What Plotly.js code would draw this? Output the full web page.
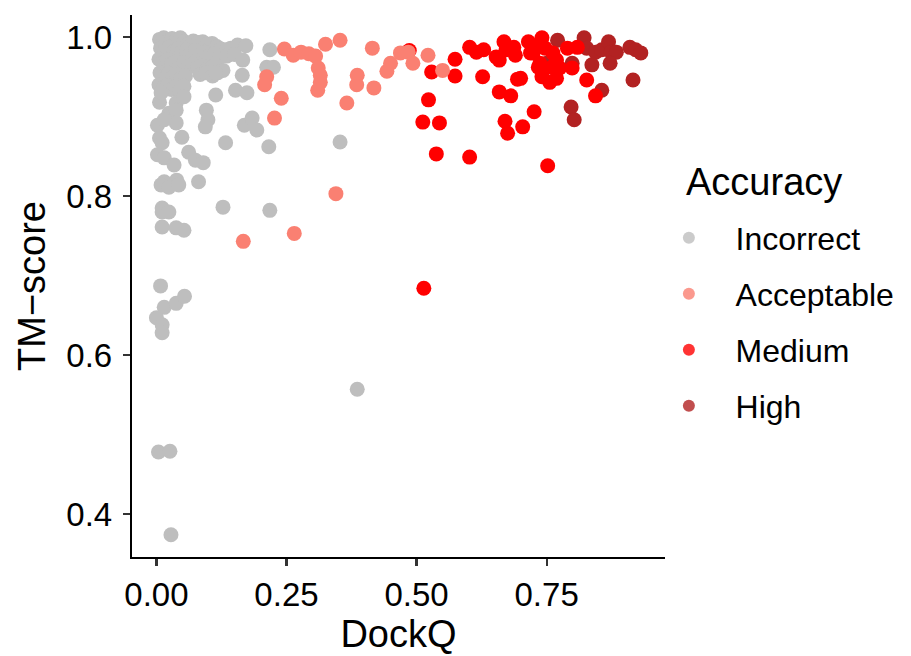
<!DOCTYPE html>
<html>
<head>
<meta charset="utf-8">
<script src="https://cdn.plot.ly/plotly-3.0.1.min.js"></script>
<style>
  html, body { margin: 0; padding: 0; background: #ffffff; }
  #chart { width: 911px; height: 656px; }
</style>
</head>
<body>
<div id="chart"></div>
<script>
// Accuracy classes and their colours
const classes = ["Incorrect", "Acceptable", "Medium", "High"];
const classColors = ["#BEBEBE", "#FA8072", "#FF0000", "#B22222"];

// DockQ / TM-score per model, grouped by accuracy class
const incorrectDockQ = [
  0.006, 0.014, 0.022, 0.030, 0.038, 0.046, 0.054, 0.063, 0.071, 0.080, 0.089, 0.098, 0.107, 0.116, 0.124, 0.134, 0.143, 0.156, 0.172,
  0.008, 0.016, 0.025, 0.033, 0.041, 0.049, 0.058, 0.066, 0.075, 0.084, 0.093, 0.102, 0.111, 0.121, 0.135, 0.150, 0.166,
  0.005, 0.013, 0.021, 0.029, 0.037, 0.045, 0.053, 0.062, 0.070, 0.079, 0.088, 0.097, 0.106, 0.118, 0.128, 0.165,
  0.007, 0.015, 0.023, 0.031, 0.039, 0.047, 0.056, 0.084, 0.095, 0.108, 0.114,
  0.005, 0.013, 0.021, 0.029, 0.037, 0.045, 0.053, 0.152, 0.174, 0.114,
  0.006, 0.038, 0.024, 0.038, 0.049, 0.002, 0.006, 0.011, 0.038, 0.015, 0.053, 0.009,
  0.002, 0.015, 0.034, 0.062, 0.075, 0.090, 0.015, 0.039, 0.081, 0.009, 0.024, 0.043,
  0.096, 0.099, 0.094, 0.133, 0.169, 0.184, 0.193, 0.216, 0.353,
  0.218, 0.212, 0.225,
  0.011, 0.128, 0.218, 0.011, 0.024, 0.011, 0.038, 0.053,
  0.008, 0.015, 0.038, 0.054, 0.000, 0.011, 0.011,
  0.386, 0.004, 0.026, 0.028
];
const incorrectTM = [
  0.997, 0.999, 0.995, 0.998, 0.996, 0.999, 0.994, 0.992, 0.995, 0.993, 0.994, 0.991, 0.992, 0.988, 0.985, 0.984, 0.986, 0.990, 0.989,
  0.986, 0.983, 0.987, 0.982, 0.985, 0.981, 0.984, 0.979, 0.983, 0.978, 0.981, 0.977, 0.979, 0.974, 0.976, 0.978, 0.971,
  0.972, 0.968, 0.971, 0.966, 0.969, 0.964, 0.968, 0.963, 0.966, 0.961, 0.964, 0.960, 0.962, 0.955, 0.958, 0.952,
  0.955, 0.951, 0.954, 0.949, 0.953, 0.948, 0.951, 0.953, 0.955, 0.951, 0.955,
  0.940, 0.936, 0.939, 0.934, 0.937, 0.933, 0.938, 0.933, 0.930, 0.927,
  0.918, 0.917, 0.904, 0.908, 0.874, 0.889, 0.873, 0.867, 0.892, 0.896, 0.925, 0.930,
  0.852, 0.848, 0.839, 0.855, 0.845, 0.842, 0.818, 0.820, 0.818, 0.814, 0.811, 0.814,
  0.908, 0.896, 0.887, 0.867, 0.889, 0.898, 0.883, 0.862, 0.868,
  0.984, 0.962, 0.962,
  0.785, 0.786, 0.782, 0.780, 0.780, 0.761, 0.760, 0.757,
  0.687, 0.660, 0.665, 0.674, 0.647, 0.638, 0.628,
  0.557, 0.478, 0.479, 0.374
];

const acceptableDockQ = [
  0.353, 0.325, 0.415, 0.246, 0.263, 0.278, 0.293, 0.306, 0.311, 0.315, 0.315, 0.310,
  0.212, 0.208, 0.240, 0.227, 0.386, 0.385, 0.418, 0.366, 0.450, 0.443, 0.469, 0.484,
  0.493, 0.522, 0.550, 0.345, 0.265, 0.167
];
const acceptableTM = [
  0.996, 0.991, 0.986, 0.985, 0.977, 0.981, 0.979, 0.976, 0.961, 0.952, 0.943, 0.933,
  0.950, 0.940, 0.923, 0.898, 0.952, 0.940, 0.936, 0.917, 0.967, 0.957, 0.980, 0.981,
  0.967, 0.977, 0.958, 0.803, 0.753, 0.743
];

const mediumDockQ = [
  0.486, 0.574, 0.529, 0.574, 0.602, 0.615, 0.629, 0.627, 0.653, 0.659, 0.668, 0.672,
  0.687, 0.690, 0.694, 0.659, 0.681, 0.715, 0.724, 0.741, 0.747, 0.719, 0.728, 0.737,
  0.743, 0.734, 0.741, 0.756, 0.769, 0.762, 0.769, 0.760, 0.775, 0.790, 0.809, 0.799,
  0.827, 0.844, 0.700, 0.523, 0.512, 0.544, 0.670, 0.675, 0.704, 0.726, 0.538, 0.602,
  0.752, 0.514
];
const mediumTM = [
  0.983, 0.972, 0.956, 0.951, 0.987, 0.981, 0.984, 0.950, 0.975, 0.971, 0.994, 0.984,
  0.987, 0.977, 0.947, 0.931, 0.926, 0.994, 0.980, 0.999, 0.986, 0.980, 0.987, 0.967,
  0.958, 0.962, 0.950, 0.943, 0.948, 0.980, 0.971, 0.962, 0.961, 0.986, 0.987, 0.961,
  0.946, 0.926, 0.948, 0.921, 0.893, 0.892, 0.894, 0.879, 0.887, 0.906, 0.853, 0.849,
  0.838, 0.684
];

const highDockQ = [
  0.771, 0.822, 0.827, 0.844, 0.856, 0.869, 0.874, 0.884, 0.872, 0.910, 0.921, 0.931,
  0.750, 0.799, 0.837, 0.916, 0.856, 0.797, 0.803
];
const highTM = [
  0.996, 0.999, 0.986, 0.981, 0.984, 0.994, 0.981, 0.981, 0.967, 0.987, 0.984, 0.980,
  0.967, 0.967, 0.965, 0.946, 0.933, 0.912, 0.896
];

// Axis tick positions and labels
const xTicks = [0, 0.25, 0.5, 0.75];
const xTickText = ["0.00", "0.25", "0.50", "0.75"];
const yTicks = [0.4, 0.6, 0.8, 1.0];
const yTickText = ["0.4", "0.6", "0.8", "1.0"];

const FONT = "'Liberation Sans', Arial, Helvetica, sans-serif";
const seriesX = [incorrectDockQ, acceptableDockQ, mediumDockQ, highDockQ];
const seriesY = [incorrectTM, acceptableTM, mediumTM, highTM];

// Drawing order of the point layers (back to front)
const drawOrder = [0, 3, 2, 1];
const traces = drawOrder.map(i => ({
  type: "scatter",
  mode: "markers",
  x: seriesX[i],
  y: seriesY[i],
  name: classes[i],
  showlegend: false,
  hoverinfo: "x+y+name",
  marker: { color: classColors[i], size: 15, line: { width: 0 } }
}));

// Legend keys (smaller dots, one legend group per class for spacing)
classes.forEach((c, i) => {
  traces.push({
    type: "scatter",
    mode: "markers",
    x: [null],
    y: [null],
    name: "\u00a0\u00a0\u00a0" + c,
    legendgroup: c,
    showlegend: true,
    marker: { color: classColors[i], size: 12, opacity: 0.8, line: { width: 0 } }
  });
});

const layout = {
  width: 911,
  height: 656,
  margin: { l: 132, r: 233, t: 15, b: 99 },
  paper_bgcolor: "#ffffff",
  plot_bgcolor: "#ffffff",
  font: { family: FONT, color: "#000000" },
  showlegend: true,
  legend: {
    x: 1.0073, xanchor: "left",
    y: 0.6395, yanchor: "top",
    font: { family: FONT, size: 32, color: "#000000" },
    tracegroupgap: 11.4,
    traceorder: "grouped",
    bgcolor: "rgba(0,0,0,0)",
    itemclick: false
  },
  xaxis: {
    range: [-0.0469, 0.9775],
    tickvals: xTicks,
    ticktext: xTickText,
    showgrid: false,
    zeroline: false,
    showline: true,
    linecolor: "#000000",
    linewidth: 2.2,
    ticks: "outside",
    ticklen: 7,
    tickwidth: 2.2,
    tickcolor: "#333333",
    tickfont: { family: FONT, size: 33, color: "#000000" },
    title: { text: "DockQ", font: { family: FONT, size: 38, color: "#000000" }, standoff: 7 }
  },
  yaxis: {
    range: [0.346, 1.0277],
    tickvals: yTicks,
    ticktext: yTickText,
    showgrid: false,
    zeroline: false,
    showline: true,
    linecolor: "#000000",
    linewidth: 2.2,
    ticks: "outside",
    ticklen: 7,
    tickwidth: 2.2,
    tickcolor: "#333333",
    ticklabelstandoff: 4,
    tickfont: { family: FONT, size: 33, color: "#000000" },
    title: { text: "TM\u2212score", font: { family: FONT, size: 38, color: "#000000" }, standoff: 9 }
  },
  annotations: [{
    text: "Accuracy",
    xref: "paper", yref: "paper",
    x: 1.035, y: 0.692,
    xanchor: "left", yanchor: "middle",
    showarrow: false,
    font: { family: FONT, size: 38, color: "#000000" }
  }]
};

Plotly.newPlot("chart", traces, layout, { displayModeBar: false, staticPlot: true });
</script>
</body>
</html>
